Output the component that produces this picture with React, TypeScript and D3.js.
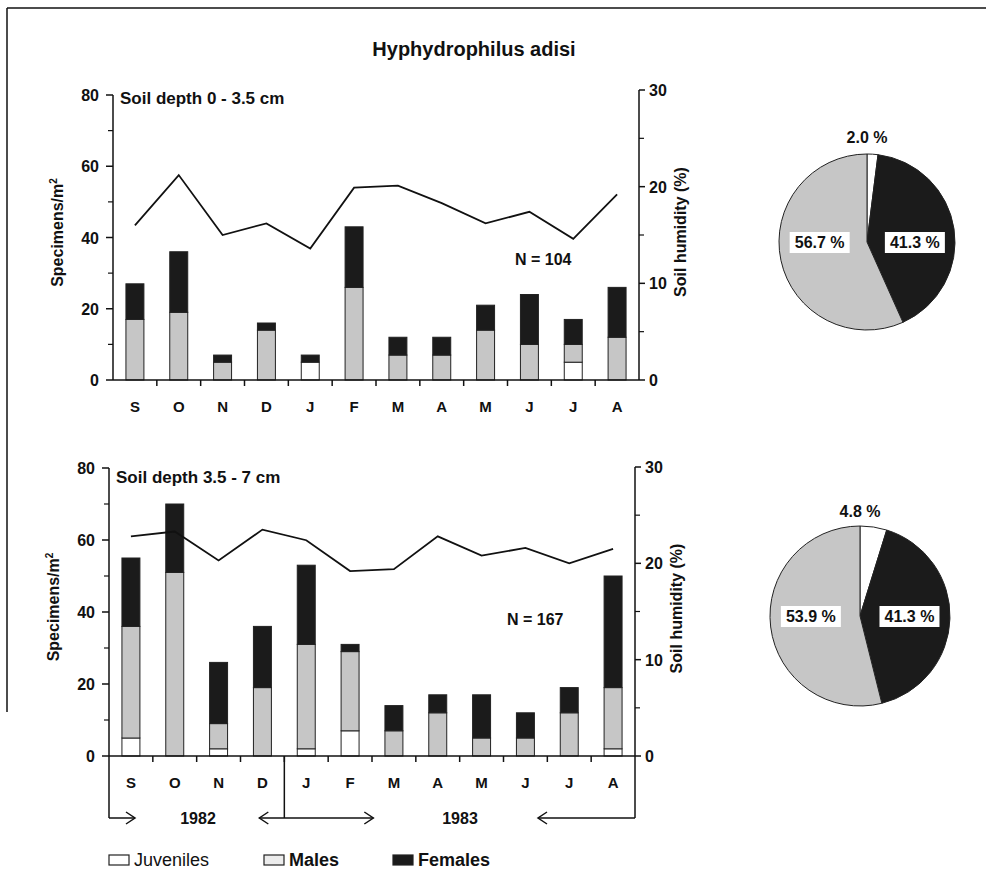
import React from "react";
import * as d3 from "d3";

// months Sep 1982 - Aug 1983
const months = ["S", "O", "N", "D", "J", "F", "M", "A", "M", "J", "J", "A"];

// soil depth 0 - 3.5 cm (specimens/m2)
const topJuveniles = [0, 0, 0, 0, 5, 0, 0, 0, 0, 0, 5, 0];
const topMales = [17, 19, 5, 14, 0, 26, 7, 7, 14, 10, 5, 12];
const topFemales = [10, 17, 2, 2, 2, 17, 5, 5, 7, 14, 7, 14];
const topHumidity = [16, 21.2, 15, 16.2, 13.6, 19.9, 20.1, 18.3, 16.2, 17.4, 14.6, 19.2];

// soil depth 3.5 - 7 cm
const botJuveniles = [5, 0, 2, 0, 2, 7, 0, 0, 0, 0, 0, 2];
const botMales = [31, 51, 7, 19, 29, 22, 7, 12, 5, 5, 12, 17];
const botFemales = [19, 19, 17, 17, 22, 2, 7, 5, 12, 7, 7, 31];
const botHumidity = [22.8, 23.3, 20.3, 23.5, 22.4, 19.2, 19.4, 22.8, 20.8, 21.6, 20, 21.5];

const leftTicks = [0, 20, 40, 60, 80];
const leftMinor = [10, 30, 50, 70];
const rightTicks = [0, 10, 20, 30];
const rightMinor = [5, 15, 25];

const pieKeys = ["Juveniles", "Females", "Males"];
const topPie = [2.0, 41.3, 56.7];
const botPie = [4.8, 41.3, 53.9];

const colors: Record<string, string> = {
  Juveniles: "#ffffff",
  Males: "#c6c6c6",
  Females: "#1b1b1b",
};

const font = "'Liberation Sans', Arial, Helvetica, sans-serif";
const ink = "#111";

type PanelProps = {
  x0: number;
  x1: number;
  base: number;
  topL: number;
  topR: number;
  juv: number[];
  males: number[];
  fem: number[];
  hum: number[];
  title: string;
  titleY: number;
  nLabel: string;
  nX: number;
  nY: number;
  bracket?: boolean;
};

const Panel = (p: PanelProps) => {
  const x = d3
    .scaleBand()
    .domain(months.map((m, i) => String(i)))
    .range([p.x0, p.x1])
    .paddingInner(0.59)
    .paddingOuter(0.295);
  const yL = d3.scaleLinear().domain([0, 80]).range([p.base, p.topL]);
  const yR = d3.scaleLinear().domain([0, 30]).range([p.base, p.topR]);
  const step = x.step();
  const bw = x.bandwidth();
  const cx = (i: number) => (x(String(i)) as number) + bw / 2;

  const line = d3
    .line<number>()
    .x((d, i) => cx(i))
    .y((d) => yR(d));

  const boundary = (k: number) => p.x0 + k * step;
  const bY = p.base + 62;
  const arrow = (tipX: number, dir: number, key: string) => (
    <path
      key={key}
      d={`M${tipX - dir * 9},${bY - 6} L${tipX},${bY} L${tipX - dir * 9},${bY + 6}`}
      fill="none"
      stroke={ink}
      strokeWidth={1.5}
    />
  );

  return (
    <g fontFamily={font} fill={ink}>
      {/* bars */}
      {months.map((m, i) => {
        const j = p.juv[i];
        const ma = p.males[i];
        const f = p.fem[i];
        const xx = x(String(i)) as number;
        return (
          <g key={i} stroke="#222" strokeWidth={1}>
            {j > 0 && (
              <rect x={xx} y={yL(j)} width={bw} height={yL(0) - yL(j)} fill={colors.Juveniles} />
            )}
            {ma > 0 && (
              <rect x={xx} y={yL(j + ma)} width={bw} height={yL(j) - yL(j + ma)} fill={colors.Males} />
            )}
            {f > 0 && (
              <rect
                x={xx}
                y={yL(j + ma + f)}
                width={bw}
                height={yL(j + ma) - yL(j + ma + f)}
                fill={colors.Females}
              />
            )}
          </g>
        );
      })}
      {/* humidity line */}
      <path d={line(p.hum) || ""} fill="none" stroke={ink} strokeWidth={1.8} />

      {/* left axis */}
      <line x1={p.x0} x2={p.x0} y1={p.topL} y2={p.bracket ? bY : p.base} stroke={ink} strokeWidth={1.5} />
      {leftTicks.map((t) => (
        <g key={t}>
          <line x1={p.x0 - 7} x2={p.x0} y1={yL(t)} y2={yL(t)} stroke={ink} strokeWidth={1.5} />
          <text x={p.x0 - 14} y={yL(t) + 6} textAnchor="end" fontSize={16} fontWeight="bold">
            {t}
          </text>
        </g>
      ))}
      {leftMinor.map((t) => (
        <line key={t} x1={p.x0 - 5} x2={p.x0} y1={yL(t)} y2={yL(t)} stroke={ink} strokeWidth={1.2} />
      ))}
      <text
        transform={`translate(${p.x0 - 50},${(p.base + p.topL) / 2 - 5}) rotate(-90)`}
        textAnchor="middle"
        fontSize={16}
        fontWeight="bold"
      >
        Specimens/m<tspan dy={-6} fontSize={10}>2</tspan>
      </text>

      {/* right axis */}
      <line x1={p.x1} x2={p.x1} y1={p.topR} y2={p.bracket ? bY : p.base} stroke={ink} strokeWidth={1.5} />
      {rightTicks.map((t) => (
        <g key={t}>
          <line x1={p.x1} x2={p.x1 + 6} y1={yR(t)} y2={yR(t)} stroke={ink} strokeWidth={1.5} />
          <text x={p.x1 + 10} y={yR(t) + 6} textAnchor="start" fontSize={16} fontWeight="bold">
            {t}
          </text>
        </g>
      ))}
      {rightMinor.map((t) => (
        <line key={t} x1={p.x1} x2={p.x1 + 5} y1={yR(t)} y2={yR(t)} stroke={ink} strokeWidth={1.2} />
      ))}
      <text
        transform={`translate(${p.x1 + 47},${(p.base + p.topR) / 2 - 3}) rotate(-90)`}
        textAnchor="middle"
        fontSize={16}
        fontWeight="bold"
      >
        Soil humidity (%)
      </text>

      {/* x axis */}
      <line x1={p.x0} x2={p.x1} y1={p.base} y2={p.base} stroke={ink} strokeWidth={1.5} />
      {d3.range(1, months.length).map((k) => (
        <line
          key={k}
          x1={boundary(k)}
          x2={boundary(k)}
          y1={p.base}
          y2={p.base + 6}
          stroke={ink}
          strokeWidth={1.5}
        />
      ))}
      {months.map((m, i) => (
        <text key={i} x={cx(i)} y={p.base + 32} textAnchor="middle" fontSize={15} fontWeight="bold">
          {m}
        </text>
      ))}

      <text x={p.x0 + 7} y={p.titleY} fontSize={17} fontWeight="bold">
        {p.title}
      </text>
      <text x={p.nX} y={p.nY} fontSize={16} fontWeight="bold">
        {p.nLabel}
      </text>

      {p.bracket && (
        <g>
          <line x1={boundary(4)} x2={boundary(4)} y1={p.base} y2={bY} stroke={ink} strokeWidth={1.5} />
          <line x1={p.x0} x2={p.x0 + 26} y1={bY} y2={bY} stroke={ink} strokeWidth={1.5} />
          {arrow(p.x0 + 26, 1, "a1")}
          <line x1={boundary(4) - 25} x2={boundary(4) + 89} y1={bY} y2={bY} stroke={ink} strokeWidth={1.5} />
          {arrow(boundary(4) - 25, -1, "a2")}
          {arrow(boundary(4) + 89, 1, "a3")}
          <line x1={p.x1 - 97} x2={p.x1} y1={bY} y2={bY} stroke={ink} strokeWidth={1.5} />
          {arrow(p.x1 - 97, -1, "a4")}
          <text x={198} y={bY + 6} textAnchor="middle" fontSize={16} fontWeight="bold">
            1982
          </text>
          <text x={460} y={bY + 6} textAnchor="middle" fontSize={16} fontWeight="bold">
            1983
          </text>
        </g>
      )}
    </g>
  );
};

type PieProps = { cx: number; cy: number; r: number; values: number[]; topY: number };

const Pie = ({ cx, cy, r, values, topY }: PieProps) => {
  const data = pieKeys.map((k, i) => ({ key: k, value: values[i] }));
  const arcs = d3
    .pie<{ key: string; value: number }>()
    .sort(null)
    .value((d) => d.value)(data);
  const arc = d3.arc<d3.PieArcDatum<{ key: string; value: number }>>().innerRadius(0).outerRadius(r);
  const labelArc = d3
    .arc<d3.PieArcDatum<{ key: string; value: number }>>()
    .innerRadius(r * 0.55)
    .outerRadius(r * 0.55);
  return (
    <g transform={`translate(${cx},${cy})`} fontFamily={font} fill={ink}>
      {arcs.map((a) => (
        <path key={a.data.key} d={arc(a) || ""} fill={colors[a.data.key]} stroke="#222" strokeWidth={1} />
      ))}
      {arcs.map((a) => {
        const label = `${a.data.value.toFixed(1)} %`;
        if (a.data.key === "Juveniles") {
          return (
            <text key={a.data.key} x={0} y={topY - cy} textAnchor="middle" fontSize={16} fontWeight="bold">
              {label}
            </text>
          );
        }
        const [lx] = labelArc.centroid(a);
        return (
          <g key={a.data.key}>
            <rect x={lx - 30} y={-10} width={60} height={21} fill="#fff" />
            <text x={lx} y={6} textAnchor="middle" fontSize={16} fontWeight="bold" fill={ink}>
              {label}
            </text>
          </g>
        );
      })}
    </g>
  );
};

const legendItems = [
  { key: "Juveniles", x: 109, fill: "#ffffff", weight: "normal" },
  { key: "Males", x: 264, fill: "#ececec", weight: "bold" },
  { key: "Females", x: 393, fill: "#1b1b1b", weight: "bold" },
];

export default function App() {
  return (
    <svg
      width={986}
      height={892}
      style={{ position: "absolute", left: 0, top: 0, display: "block" }}
    >
      <rect x={0} y={0} width={986} height={892} fill="#fff" />
      {/* frame */}
      <line x1={7} x2={986} y1={8} y2={8} stroke={ink} strokeWidth={1.5} />
      <line x1={7} x2={7} y1={8} y2={712} stroke={ink} strokeWidth={1.5} />

      <text x={474} y={56} textAnchor="middle" fontFamily={font} fontSize={20} fontWeight="bold" fill={ink}>
        Hyphydrophilus adisi
      </text>
      <Panel
        x0={113}
        x1={639}
        base={380}
        topL={95}
        topR={90}
        juv={topJuveniles}
        males={topMales}
        fem={topFemales}
        hum={topHumidity}
        title="Soil depth 0 - 3.5 cm"
        titleY={104}
        nLabel="N = 104"
        nX={515}
        nY={265}
      />
      <Panel
        x0={109}
        x1={635}
        base={756}
        topL={468}
        topR={467}
        juv={botJuveniles}
        males={botMales}
        fem={botFemales}
        hum={botHumidity}
        title="Soil depth 3.5 - 7 cm"
        titleY={483}
        nLabel="N = 167"
        nX={507}
        nY={625}
        bracket
      />
      <Pie cx={867} cy={242} r={88} values={topPie} topY={143} />
      <Pie cx={860} cy={616} r={90} values={botPie} topY={517} />

      <g fontFamily={font} fill={ink}>
        {legendItems.map((it) => (
          <g key={it.key}>
            <rect x={it.x} y={855} width={20} height={10} fill={it.fill} stroke="#222" strokeWidth={1.2} />
            <text x={it.x + 25} y={866} fontSize={18} fontWeight={it.weight}>
              {it.key}
            </text>
          </g>
        ))}
      </g>
    </svg>
  );
}
